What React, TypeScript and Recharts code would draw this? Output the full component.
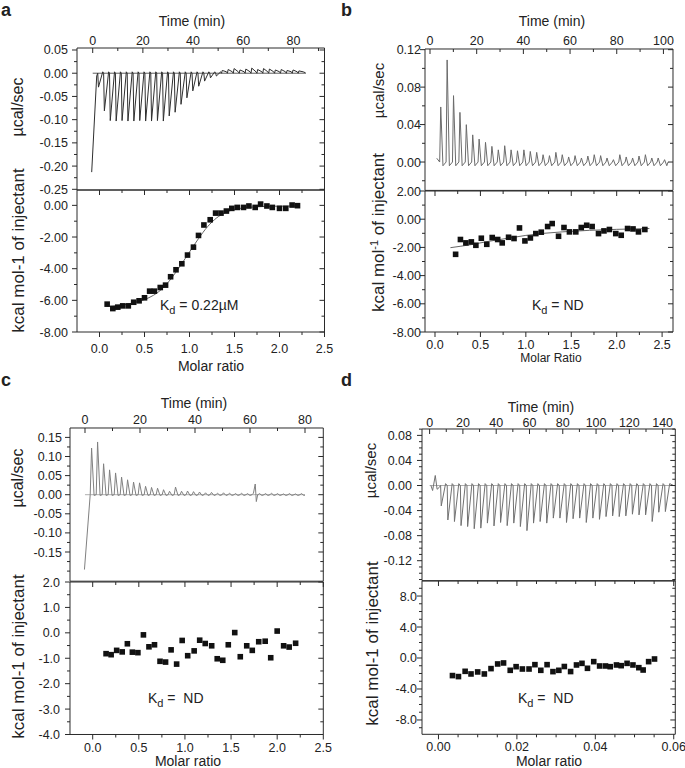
import React from 'react'
import { ComposedChart, Line, Scatter, XAxis, YAxis } from 'recharts'

const FONT = '"Liberation Sans", Arial, Helvetica, sans-serif'

// ---- panel a : raw heats (peak of each injection, µcal/sec) ----
const A_INJ_START = 2.0
const A_INJ_STEP = 2.35
const A_PEAKS = [
  -0.03, -0.081, -0.102, -0.103, -0.102, -0.103, -0.103, -0.102, -0.103, -0.103, -0.102, -0.103,
  -0.092, -0.084, -0.067, -0.053, -0.038, -0.028, -0.017, -0.01, -0.006, 0.006, 0.008, 0.01,
  0.007, 0.009, 0.011, 0.008, 0.01, 0.009, 0.007, 0.008, 0.006, 0.007, 0.005,
]
const A_LEAD = [[-0.4, -0.213], [1.6, -0.006]]
const A_TAIL = [[84.8, 0.001]]
const A_BASE = [[0, 0], [85, 0]]
// integrated heats
const A_RATIO = [
  0.085, 0.148, 0.203, 0.258, 0.32, 0.38, 0.44, 0.5, 0.557, 0.61, 0.675, 0.734, 0.79, 0.85, 0.915,
  0.978, 1.044, 1.1, 1.16, 1.23, 1.29, 1.35, 1.41, 1.47, 1.53, 1.6, 1.66, 1.73, 1.79, 1.86, 1.92,
  2.0, 2.07, 2.14, 2.2,
]
const A_HEAT = [
  -6.24, -6.52, -6.43, -6.35, -6.35, -6.12, -6.03, -5.84, -5.42, -5.42, -5.19, -5.04, -4.51, -4.07,
  -3.69, -3.14, -2.64, -1.9, -1.24, -0.91, -0.49, -0.49, -0.36, -0.19, -0.13, -0.13, -0.04, -0.13,
  0.08, -0.04, -0.13, -0.19, -0.19, 0.02, -0.02,
]
const A_FIT = [
  [0.08, -6.38], [0.2, -6.33], [0.3, -6.25], [0.4, -6.12], [0.5, -5.95], [0.6, -5.68], [0.7, -5.25],
  [0.8, -4.6], [0.9, -3.8], [1.0, -2.95], [1.1, -2.1], [1.2, -1.35], [1.3, -0.8], [1.4, -0.45],
  [1.5, -0.26], [1.6, -0.16], [1.8, -0.08], [2.0, -0.05], [2.2, -0.04],
]

// ---- panel b ----
const B_INJ_START = 4.15
const B_INJ_STEP = 2.74
const B_PEAKS = [
  0.0588, 0.109, 0.0709, 0.053, 0.0399, 0.029, 0.0245, 0.021, 0.0167, 0.013, 0.0174, 0.013, 0.012,
  0.013, 0.0113, 0.0103, 0.0078, 0.0068, 0.0103, 0.0078, 0.0054, 0.0068, 0.0043, 0.0064, 0.0078,
  0.0068, 0.0043, 0.0025, 0.0078, 0.0054, 0.0043, 0.0064, 0.0078, 0.0043, 0.0043, 0.0025,
]
const B_LEAD = [[2.9, 0.004]]
const B_TAIL = [[102, 0.0]]
const B_RATIO = [
  0.227, 0.28, 0.34, 0.4, 0.45, 0.51, 0.57, 0.63, 0.69, 0.74, 0.81, 0.87, 0.93, 0.99, 1.05, 1.11,
  1.17, 1.24, 1.29, 1.36, 1.42, 1.48, 1.55, 1.61, 1.67, 1.73, 1.8, 1.86, 1.92, 1.99, 2.05, 2.12,
  2.18, 2.24, 2.31,
]
const B_HEAT = [
  -2.49, -1.44, -1.68, -1.61, -1.85, -1.35, -1.78, -1.3, -1.44, -1.68, -1.28, -1.37, -0.62, -1.54,
  -1.33, -1.02, -0.92, -0.52, -0.31, -1.21, -0.59, -0.9, -0.9, -0.59, -0.43, -0.52, -1.02, -0.83,
  -0.73, -1.02, -1.14, -0.66, -0.69, -0.9, -0.73,
]
const B_FIT = [
  [0.17, -2.02], [0.4, -1.8], [0.6, -1.56], [0.8, -1.35], [1.0, -1.15], [1.2, -1.0], [1.4, -0.9],
  [1.7, -0.79], [2.0, -0.72], [2.36, -0.66],
]

// ---- panel c ----
const C_INJ_START = 1.9
const C_INJ_STEP = 2.18
const C_PEAKS = [
  0.122, 0.138, 0.081, 0.065, 0.057, 0.046, 0.039, 0.033, 0.031, 0.022, 0.019, 0.017, 0.013, 0.009,
  0.02, 0.009, 0.0096, 0.008, 0.007, 0.005, 0.006, 0.004, 0.005, 0.004, 0.003, 0.004, 0.003, 0.004,
  0.003, 0.003, 0.004, 0.003, 0.002, 0.003, 0.002, 0.003,
]
const C_LEAD = [[-0.2, -0.196]]
const C_GLITCH = [[61.9, 0.028], [62.3, -0.018], [62.8, 0.0]]
const C_TAIL = [[80, -0.001]]
const C_BASE = [[0, 0], [80, 0]]
const C_RATIO = [
  0.145, 0.2, 0.26, 0.32, 0.376, 0.43, 0.49, 0.55, 0.61, 0.67, 0.73, 0.79, 0.85, 0.91, 0.97, 1.03,
  1.1, 1.16, 1.22, 1.29, 1.35, 1.41, 1.47, 1.54, 1.6, 1.67, 1.73, 1.8, 1.87, 1.93, 2.0, 2.07, 2.13,
  2.2,
]
const C_HEAT = [
  -0.82, -0.86, -0.69, -0.75, -0.43, -0.76, -0.78, -0.08, -0.55, -0.47, -1.12, -1.15, -0.67, -1.23,
  -0.3, -0.9, -0.71, -0.29, -0.42, -0.51, -1.02, -1.08, -0.47, 0.01, -0.94, -0.51, -0.69, -0.35,
  -0.33, -0.98, 0.07, -0.51, -0.56, -0.41,
]

// ---- panel d ----
const D_INJ_START = 6.6
const D_INJ_STEP = 3.96
const D_PEAKS = [
  -0.0325, -0.055, -0.0575, -0.064, -0.0655, -0.069, -0.068, -0.06, -0.0645, -0.059, -0.064, -0.06,
  -0.0655, -0.072, -0.06, -0.0575, -0.06, -0.052, -0.052, -0.059, -0.053, -0.052, -0.059, -0.052,
  -0.054, -0.0496, -0.0485, -0.0496, -0.0485, -0.0458, -0.0469, -0.0469, -0.0575, -0.0426, -0.0416,
]
const D_LEAD = [[0.8, 0], [1.8, -0.008], [3.4, 0.016], [4.5, -0.006], [5.8, -0.003]]
const D_TAIL = [[146.5, 0.0]]
const D_BASE = [[0, 0], [147, 0]]
const D_RATIO = [
  0.00357, 0.0051, 0.0068, 0.0083, 0.01, 0.0117, 0.0134, 0.0151, 0.0166, 0.0183, 0.0198, 0.0214,
  0.0231, 0.0246, 0.0261, 0.0277, 0.0292, 0.0307, 0.0321, 0.0337, 0.0352, 0.0366, 0.038, 0.0396,
  0.0411, 0.0426, 0.0438, 0.0454, 0.0466, 0.0481, 0.0496, 0.0511, 0.0522, 0.0536, 0.0551,
]
const D_HEAT = [
  -2.27, -2.4, -1.72, -2.06, -1.8, -2.06, -1.37, -0.77, -0.64, -1.59, -1.12, -1.42, -1.42, -0.86,
  -1.59, -0.86, -1.76, -1.59, -1.1, -1.75, -0.9, -0.69, -1.33, -0.47, -1.03, -1.03, -1.12, -0.9,
  -0.99, -0.69, -0.9, -1.25, -1.55, -0.47, -0.13,
]

// ---- ticks ----
const A_TIME_MAJ = [0, 20, 40, 60, 80]
const A_TIME_MIN = [10, 30, 50, 70, 90]
const A_RAW_MAJ = [0.05, 0, -0.05, -0.1, -0.15, -0.2, -0.25]
const A_RAW_MIN = [0.025, -0.025, -0.075, -0.125, -0.175, -0.225]
const A_HEAT_MAJ = [0, -2, -4, -6, -8]
const A_HEAT_MIN = [-1, -3, -5, -7]
const RATIO_MAJ = [0, 0.5, 1, 1.5, 2, 2.5]
const RATIO_MIN = [0.25, 0.75, 1.25, 1.75, 2.25]
const B_TIME_MAJ = [0, 20, 40, 60, 80, 100]
const B_TIME_MIN = [10, 30, 50, 70, 90]
const B_RAW_MAJ = [0.12, 0.08, 0.04, 0]
const B_RAW_MIN = [0.1, 0.06, 0.02, -0.02]
const B_HEAT_MAJ = [2, 0, -2, -4, -6, -8]
const B_HEAT_MIN = [1, -1, -3, -5, -7]
const C_TIME_MAJ = [0, 20, 40, 60, 80]
const C_TIME_MIN = [10, 30, 50, 70]
const C_RAW_MAJ = [0.15, 0.1, 0.05, 0, -0.05, -0.1, -0.15]
const C_RAW_MIN = [0.125, 0.075, 0.025, -0.025, -0.075, -0.125, -0.175, -0.2]
const C_HEAT_MAJ = [2, 1, 0, -1, -2, -3, -4]
const C_HEAT_MIN = [1.5, 0.5, -0.5, -1.5, -2.5, -3.5]
const D_TIME_MAJ = [0, 20, 40, 60, 80, 100, 120, 140]
const D_TIME_MIN = [10, 30, 50, 70, 90, 110, 130]
const D_RAW_MAJ = [0.08, 0.04, 0, -0.04, -0.08, -0.12]
const D_RAW_MIN = [
  0.09, 0.07, 0.06, 0.05, 0.03, 0.02, 0.01, -0.01, -0.02, -0.03, -0.05, -0.06, -0.07, -0.09, -0.1,
  -0.11, -0.13, -0.14, -0.15,
]
const D_HEAT_MAJ = [8, 4, 0, -4, -8]
const D_HEAT_MIN = [9, 7, 6, 5, 3, 2, 1, -1, -2, -3, -5, -6, -7, -9]
const D_RATIO_MAJ = [0, 0.02, 0.04, 0.06]
const D_RATIO_MIN = [0.005, 0.01, 0.015, 0.025, 0.03, 0.035, 0.045, 0.05, 0.055]

type Pt = { x: number; y: number }
const toPts = (arr: number[][]): Pt[] => arr.map(([x, y]) => ({ x, y }))
const zipPts = (xs: number[], ys: number[]): Pt[] => xs.map((x, i) => ({ x, y: ys[i] }))

// each injection: baseline at injection time, peak shortly after, back near baseline
function thermogram(
  lead: number[][], start: number, step: number, peaks: number[],
  rise: number, fall: number, after: number, tail: number[][], extra: number[][] = []
): Pt[] {
  const pts: number[][] = [...lead]
  peaks.forEach((p, i) => {
    const t = start + i * step
    pts.push([t, 0], [t + rise, p], [t + fall, after])
  })
  pts.push(...extra, ...tail)
  pts.sort((a, b) => a[0] - b[0])
  return toPts(pts)
}

const f0 = (v: number) => String(v)
const f1 = (v: number) => v.toFixed(1)
const f2 = (v: number) => v.toFixed(2)

interface AxisCfg { domain: [number, number]; majors: number[]; minors: number[]; fmt: (v: number) => string; gap: number; fs?: number }
interface LineCfg { data: Pt[]; color: string; width: number }

const isMajor = (majors: number[], v: number) => majors.some((m) => Math.abs(m - v) < 1e-9)

// tick labels only (marks are drawn by the TickMark scatter below)
function labelFor(side: 'left' | 'top' | 'bottom', ax: AxisCfg) {
  return (props: any) => {
    const x = Number(props.x)
    const y = Number(props.y)
    const v = Number(props.payload.value)
    if (!isMajor(ax.majors, v)) return <g />
    const fs = ax.fs ?? 12.5
    if (side === 'left')
      return <text x={x - ax.gap} y={y + fs * 0.36} textAnchor="end" fontSize={fs} fontFamily={FONT} fill="#222">{ax.fmt(v)}</text>
    if (side === 'top')
      return <text x={x} y={y - ax.gap} textAnchor="middle" fontSize={fs} fontFamily={FONT} fill="#222">{ax.fmt(v)}</text>
    return <text x={x} y={y + ax.gap} textAnchor="middle" fontSize={fs} fontFamily={FONT} fill="#222">{ax.fmt(v)}</text>
  }
}

// tick positions along the plot edges
type Mark = { x: number; y: number; d: 'h' | 'v'; len: number }
function edgeMarks(xa: AxisCfg, ya: AxisCfg, bottomEdge: boolean): Mark[] {
  const [x0, x1] = xa.domain
  const [y0, y1] = ya.domain
  const out: Mark[] = []
  for (const v of [...ya.majors, ...ya.minors]) {
    const len = isMajor(ya.majors, v) ? 5 : 3
    out.push({ x: x0, y: v, d: 'h', len }, { x: x1, y: v, d: 'h', len })
  }
  for (const v of [...xa.majors, ...xa.minors]) {
    const len = isMajor(xa.majors, v) ? 5 : 3
    out.push({ x: v, y: y1, d: 'v', len })
    if (bottomEdge) out.push({ x: v, y: y0, d: 'v', len })
  }
  return out
}
const frame = (xa: AxisCfg, ya: AxisCfg): Pt[] => {
  const [x0, x1] = xa.domain
  const [y0, y1] = ya.domain
  return [{ x: x0, y: y0 }, { x: x1, y: y0 }, { x: x1, y: y1 }, { x: x0, y: y1 }, { x: x0, y: y0 }]
}

const TickMark = (props: any) => {
  const { cx, cy, payload } = props
  if (payload.d === 'h') return <rect x={cx - payload.len} y={cy - 0.5} width={payload.len} height={1} fill="#2a2a2a" />
  return <rect x={cx - 0.5} y={cy} width={1} height={payload.len} fill="#2a2a2a" />
}

const Square = (props: any) => {
  const { cx, cy } = props
  return <rect x={cx - 2.8} y={cy - 2.8} width={5.6} height={5.6} fill="#111" />
}

const PAD_L = 70
const PAD_R = 14

function RawChart({ box, x, y, lines }: { box: number[]; x: AxisCfg; y: AxisCfg; lines: LineCfg[] }) {
  const [L, T, R, B] = box
  const padT = 52
  const w = R - L + PAD_L + PAD_R
  const h = B - T + padT
  return (
    <div style={{ position: 'absolute', left: L - PAD_L, top: T - padT }}>
      <ComposedChart width={w} height={h} margin={{ top: 0, right: PAD_R, bottom: 0, left: 0 }}>
        <XAxis xAxisId="t" orientation="top" type="number" dataKey="x" domain={x.domain} allowDataOverflow
          ticks={x.majors} interval={0} height={padT} tickSize={0} tickMargin={0}
          tickLine={false} axisLine={false} tick={labelFor('top', x)} />
        <YAxis yAxisId="l" orientation="left" type="number" dataKey="y" domain={y.domain} allowDataOverflow
          ticks={y.majors} interval={0} width={PAD_L} tickSize={0} tickMargin={0} tickLine={false} axisLine={false}
          tick={labelFor('left', y)} />
        <XAxis xAxisId="hx" hide type="number" dataKey="x" domain={x.domain} />
        <YAxis yAxisId="hy" hide orientation="right" type="number" dataKey="y" domain={y.domain} />
        {lines.map((l, i) => (
          <Line key={i} xAxisId="t" yAxisId="l" data={l.data} dataKey="y" type="linear" dot={false}
            stroke={l.color} strokeWidth={l.width} isAnimationActive={false} />
        ))}
        <Line xAxisId="hx" yAxisId="hy" data={frame(x, y)} dataKey="y" type="linear" dot={false}
          stroke="#2a2a2a" strokeWidth={1} isAnimationActive={false} />
        <Scatter xAxisId="hx" yAxisId="hy" data={edgeMarks(x, y, false)} dataKey="y" shape={<TickMark />}
          isAnimationActive={false} />
      </ComposedChart>
    </div>
  )
}

function HeatChart({ box, x, y, points, fit }: { box: number[]; x: AxisCfg; y: AxisCfg; points: Pt[]; fit?: Pt[] }) {
  const [L, T, R, B] = box
  const padT = 1
  const padB = 45
  const w = R - L + PAD_L + PAD_R
  const h = B - T + padT + padB
  return (
    <div style={{ position: 'absolute', left: L - PAD_L, top: T - padT }}>
      <ComposedChart width={w} height={h} margin={{ top: padT, right: PAD_R, bottom: 0, left: 0 }}>
        <XAxis xAxisId="b" orientation="bottom" type="number" dataKey="x" domain={x.domain} allowDataOverflow
          ticks={x.majors} interval={0} height={padB} tickSize={0} tickMargin={0} tickLine={false} axisLine={false}
          tick={labelFor('bottom', x)} />
        <YAxis yAxisId="l" orientation="left" type="number" dataKey="y" domain={y.domain} allowDataOverflow
          ticks={y.majors} interval={0} width={PAD_L} tickSize={0} tickMargin={0} tickLine={false} axisLine={false}
          tick={labelFor('left', y)} />
        <XAxis xAxisId="hx" hide type="number" dataKey="x" domain={x.domain} />
        <YAxis yAxisId="hy" hide orientation="right" type="number" dataKey="y" domain={y.domain} />
        {fit && (
          <Line xAxisId="b" yAxisId="l" data={fit} dataKey="y" type="monotone" dot={false}
            stroke="#555" strokeWidth={0.9} isAnimationActive={false} />
        )}
        <Scatter xAxisId="b" yAxisId="l" data={points} dataKey="y" shape={<Square />} isAnimationActive={false} />
        <Line xAxisId="hx" yAxisId="hy" data={frame(x, y)} dataKey="y" type="linear" dot={false}
          stroke="#2a2a2a" strokeWidth={1} isAnimationActive={false} />
        <Scatter xAxisId="hx" yAxisId="hy" data={edgeMarks(x, y, true)} dataKey="y" shape={<TickMark />}
          isAnimationActive={false} />
      </ComposedChart>
    </div>
  )
}

const A_RAW = thermogram(A_LEAD, A_INJ_START, A_INJ_STEP, A_PEAKS, 0.3, 2.0, 0.003, A_TAIL)
const B_RAW = thermogram(B_LEAD, B_INJ_START, B_INJ_STEP, B_PEAKS, 0.45, 1.4, -0.004, B_TAIL)
const C_RAW = thermogram(C_LEAD, C_INJ_START, C_INJ_STEP, C_PEAKS, 0.5, 1.4, -0.002, C_TAIL, C_GLITCH)
const D_RAW = thermogram(D_LEAD, D_INJ_START, D_INJ_STEP, D_PEAKS, 0.4, 3.0, 0.003, D_TAIL)

// HTML text placed by baseline
const Txt = ({ x, y, size = 14, anchor = 'middle', bold = false, children }: any) => {
  const style: React.CSSProperties = {
    position: 'absolute', top: y - 0.8465 * size, fontSize: size, lineHeight: `${size}px`, fontFamily: FONT,
    fontWeight: bold ? 'bold' : 'normal', color: '#222', whiteSpace: 'pre',
  }
  if (anchor === 'start') style.left = x
  else { style.left = x - 80; style.width = 160; style.textAlign = 'center' }
  return <div style={style}>{children}</div>
}
const VTxt = ({ x, y, size = 16, children }: any) => {
  const w = 220
  const cx = x - 0.3465 * size
  return (
    <div style={{
      position: 'absolute', left: cx - w / 2, top: y - size / 2, width: w, height: size, lineHeight: `${size}px`,
      fontSize: size, fontFamily: FONT, color: '#222', textAlign: 'center', whiteSpace: 'pre',
      transform: 'rotate(-90deg)', transformOrigin: '50% 50%',
    }}>{children}</div>
  )
}
const Kd = ({ x, y, value }: { x: number; y: number; value: string }) => (
  <Txt x={x} y={y} anchor="start">K<span style={{ fontSize: 11, position: 'relative', top: 4 }}>d</span>{value}</Txt>
)

export default function App() {
  return (
    <div style={{ position: 'absolute', left: 0, top: 0, width: 685, height: 768 }}>
      <style>{'.recharts-surface{overflow:visible}'}</style>
      {/* a */}
      <RawChart box={[77, 48, 324.5, 190]}
        x={{ domain: [-6.26, 92.4], majors: A_TIME_MAJ, minors: A_TIME_MIN, fmt: f0, gap: 3 }}
        y={{ domain: [-0.2515, 0.0543], majors: A_RAW_MAJ, minors: A_RAW_MIN, fmt: f2, gap: 9 }}
        lines={[{ data: toPts(A_BASE), color: '#333', width: 0.8 }, { data: A_RAW, color: '#2e2e2e', width: 1 }]} />
      <HeatChart box={[77, 190, 324.5, 332]}
        x={{ domain: [-0.25, 2.5], majors: RATIO_MAJ, minors: RATIO_MIN, fmt: f1, gap: 21 }}
        y={{ domain: [-8, 0.97], majors: A_HEAT_MAJ, minors: A_HEAT_MIN, fmt: f2, gap: 9 }}
        points={zipPts(A_RATIO, A_HEAT)} fit={toPts(A_FIT)} />
      {/* b */}
      <RawChart box={[425, 49.3, 673, 190.7]}
        x={{ domain: [-2.14, 104.1], majors: B_TIME_MAJ, minors: B_TIME_MIN, fmt: f0, gap: 4 }}
        y={{ domain: [-0.0303, 0.1207], majors: B_RAW_MAJ, minors: B_RAW_MIN, fmt: f2, gap: 4 }}
        lines={[{ data: B_RAW, color: '#6a6a6a', width: 1 }]} />
      <HeatChart box={[425, 190.7, 673, 331.7]}
        x={{ domain: [-0.11, 2.62], majors: RATIO_MAJ, minors: RATIO_MIN, fmt: f1, gap: 16.5 }}
        y={{ domain: [-8, 2], majors: B_HEAT_MAJ, minors: B_HEAT_MIN, fmt: f2, gap: 4 }}
        points={zipPts(B_RATIO, B_HEAT)} fit={toPts(B_FIT)} />
      {/* c */}
      <RawChart box={[70, 428.3, 323.3, 581.5]}
        x={{ domain: [-5.45, 86.65], majors: C_TIME_MAJ, minors: C_TIME_MIN, fmt: f0, gap: 4 }}
        y={{ domain: [-0.2264, 0.1746], majors: C_RAW_MAJ, minors: C_RAW_MIN, fmt: f2, gap: 8 }}
        lines={[{ data: toPts(C_BASE), color: '#999', width: 0.8 }, { data: C_RAW, color: '#808080', width: 1 }]} />
      <HeatChart box={[70, 581.5, 323.3, 734]}
        x={{ domain: [-0.246, 2.5], majors: RATIO_MAJ, minors: RATIO_MIN, fmt: f1, gap: 17.5 }}
        y={{ domain: [-4, 2], majors: C_HEAT_MAJ, minors: C_HEAT_MIN, fmt: f1, gap: 10 }}
        points={zipPts(C_RATIO, C_HEAT)} />
      {/* d */}
      <RawChart box={[421.7, 429.3, 675, 581]}
        x={{ domain: [-4.57, 147.6], majors: D_TIME_MAJ, minors: D_TIME_MIN, fmt: f0, gap: 2 }}
        y={{ domain: [-0.1519, 0.0902], majors: D_RAW_MAJ, minors: D_RAW_MIN, fmt: f2, gap: 10 }}
        lines={[{ data: toPts(D_BASE), color: '#999', width: 0.8 }, { data: D_RAW, color: '#707070', width: 1 }]} />
      <HeatChart box={[421.7, 581, 675, 734.3]}
        x={{ domain: [-0.0042, 0.0604], majors: D_RATIO_MAJ, minors: D_RATIO_MIN, fmt: f2, gap: 17 }}
        y={{ domain: [-9.85, 9.94], majors: D_HEAT_MAJ, minors: D_HEAT_MIN, fmt: f1, gap: 5 }}
        points={zipPts(D_RATIO, D_HEAT)} />

      <Txt x={1} y={16.5} size={18} anchor="start" bold>a</Txt>
      <Txt x={341} y={16.5} size={18} anchor="start" bold>b</Txt>
      <Txt x={1} y={386} size={18} anchor="start" bold>c</Txt>
      <Txt x={341} y={386} size={18} anchor="start" bold>d</Txt>

      <Txt x={192} y={26}>Time (min)</Txt>
      <Txt x={552} y={26}>Time (min)</Txt>
      <Txt x={194} y={408}>Time (min)</Txt>
      <Txt x={541} y={412}>Time (min)</Txt>

      <Txt x={211} y={371}>Molar ratio</Txt>
      <Txt x={551} y={362} size={12}>Molar Ratio</Txt>
      <Txt x={188} y={766}>Molar ratio</Txt>
      <Txt x={549} y={766}>Molar ratio</Txt>

      <VTxt x={24} y={107}>µcal/sec</VTxt>
      <VTxt x={24} y={250} size={17}>kcal mol-1 of injectant</VTxt>
      <VTxt x={383} y={90} size={15}>µcal/sec</VTxt>
      <VTxt x={384} y={232} size={17}>
        kcal mol<span style={{ fontSize: 11, position: 'relative', top: -6 }}>-1</span> of injectant
      </VTxt>
      <VTxt x={24} y={478}>µcal/sec</VTxt>
      <VTxt x={24} y={656} size={17}>kcal mol-1 of injectant</VTxt>
      <VTxt x={375} y={470} size={15}>µcal/sec</VTxt>
      <VTxt x={378} y={643} size={17}>kcal mol-1 of injectant</VTxt>

      <Kd x={160} y={310} value=" = 0.22µM" />
      <Kd x={532} y={310} value=" = ND" />
      <Kd x={148} y={703} value=" =  ND" />
      <Kd x={518} y={703} value=" =  ND" />
    </div>
  )
}
